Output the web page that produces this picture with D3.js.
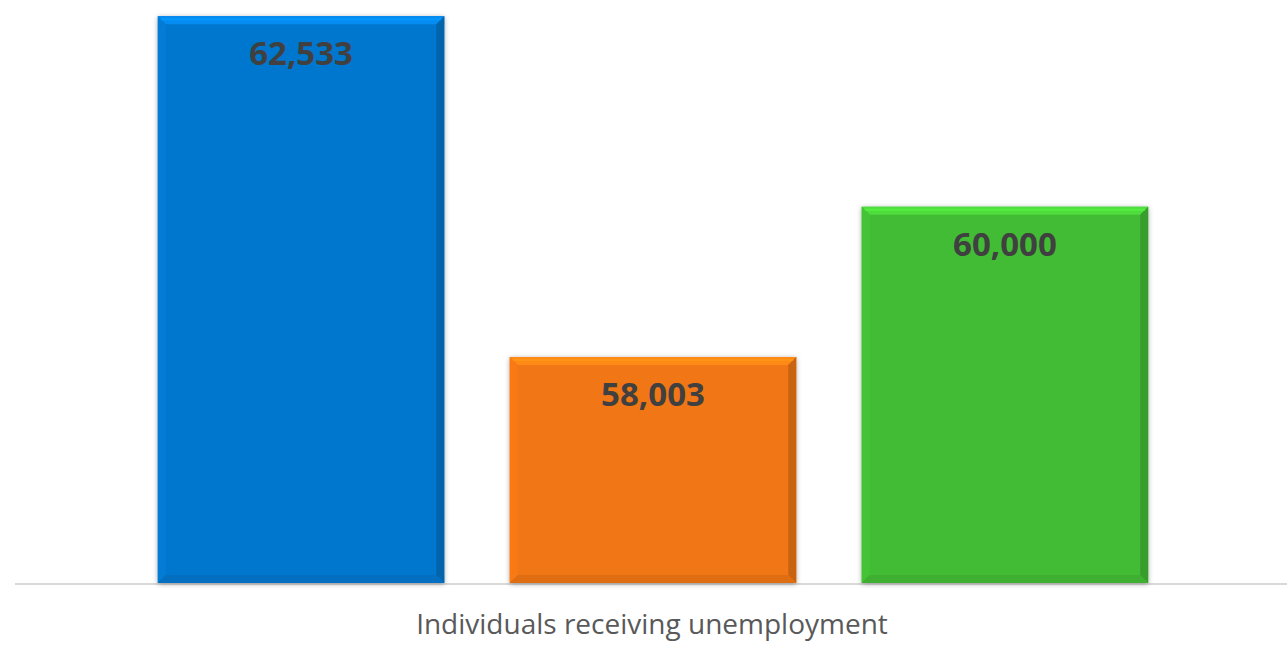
<!DOCTYPE html>
<html>
<head>
  <meta charset="UTF-8">
  <title>Individuals receiving unemployment</title>
  <script src="https://d3js.org/d3.v7.min.js"></script>
  <style>
    body { margin: 0; background: #fff; }
    svg { display: block; }
  </style>
</head>
<body>
  <script>
    // chart values
    var seriesNames = ["Series 1", "Series 2", "Series 3"];
    var seriesValues = [62533, 58003, 60000];
    var seriesColors = ["#0477CE", "#F07613", "#43BC34"];
    var categoryLabel = "Individuals receiving unemployment";

    var W = 1287, H = 650;
    var plot = { left: 15, right: 1287, top: -19, bottom: 583 };

    var svg = d3.select("body").append("svg")
      .attr("width", W)
      .attr("height", H);

    var defs = svg.append("defs");
    var shadow = defs.append("filter").attr("id", "shadow")
      .attr("x", "-10%").attr("y", "-10%").attr("width", "120%").attr("height", "120%");
    shadow.append("feDropShadow")
      .attr("dx", 0).attr("dy", 1).attr("stdDeviation", 2.5)
      .attr("flood-color", "#000").attr("flood-opacity", 0.35);

    var x = d3.scaleBand()
      .domain(seriesNames)
      .range([plot.left + 2, plot.right + 2])
      .paddingInner(0.186)
      .paddingOuter(0.4);

    var y = d3.scaleLinear()
      .domain([55000, 63000])
      .range([plot.bottom, plot.top]);

    // baseline
    svg.append("line")
      .attr("x1", plot.left).attr("x2", plot.right)
      .attr("y1", plot.bottom + 1).attr("y2", plot.bottom + 1)
      .attr("stroke", "#d9d9d9").attr("stroke-width", 2);

    var bev = 8;
    var bars = svg.selectAll("g.bar")
      .data(seriesValues)
      .enter().append("g")
      .attr("class", "bar");

    bars.each(function (d, i) {
      var g = d3.select(this);
      var x0 = x(seriesNames[i]), x1 = x0 + x.bandwidth();
      var y0 = y(d), y1 = plot.bottom;
      var c = d3.color(seriesColors[i]);

      g.append("rect")
        .attr("x", x0).attr("y", y0)
        .attr("width", x1 - x0).attr("height", y1 - y0)
        .attr("fill", c.formatHex())
        .attr("filter", "url(#shadow)");

      function poly(pts, fill) {
        g.append("polygon")
          .attr("points", pts.map(function (p) { return p.join(","); }).join(" "))
          .attr("fill", fill);
      }
      // bevel edges
      poly([[x0, y0], [x1, y0], [x1 - bev, y0 + bev], [x0 + bev, y0 + bev]], c.brighter(0.45).formatHex());
      poly([[x0, y0], [x0 + bev, y0 + bev], [x0 + bev, y1 - bev], [x0, y1]], c.brighter(0.1).formatHex());
      poly([[x1, y0], [x1, y1], [x1 - bev, y1 - bev], [x1 - bev, y0 + bev]], c.darker(0.5).formatHex());
      poly([[x0, y1], [x0 + bev, y1 - bev], [x1 - bev, y1 - bev], [x1, y1]], c.darker(0.2).formatHex());
      // thin highlight line at top
      g.append("line")
        .attr("x1", x0 + 3).attr("x2", x1 - 3)
        .attr("y1", y0 + 3).attr("y2", y0 + 3)
        .attr("stroke", c.brighter(0.8).formatHex())
        .attr("stroke-opacity", 0.6)
        .attr("stroke-width", 2);

      g.append("text")
        .attr("x", (x0 + x1) / 2)
        .attr("y", y0 + 49)
        .attr("text-anchor", "middle")
        .attr("font-family", "'Open Sans', sans-serif")
        .attr("font-weight", "bold")
        .attr("font-size", 33)
        .attr("fill", "#404040")
        .text(d3.format(",")(d));
    });

    // category axis label
    svg.append("text")
      .attr("x", (plot.left + plot.right) / 2 + 1)
      .attr("y", 634)
      .attr("text-anchor", "middle")
      .attr("font-family", "'Open Sans', sans-serif")
      .attr("font-size", 28)
      .attr("fill", "#595959")
      .text(categoryLabel);
  </script>
</body>
</html>
